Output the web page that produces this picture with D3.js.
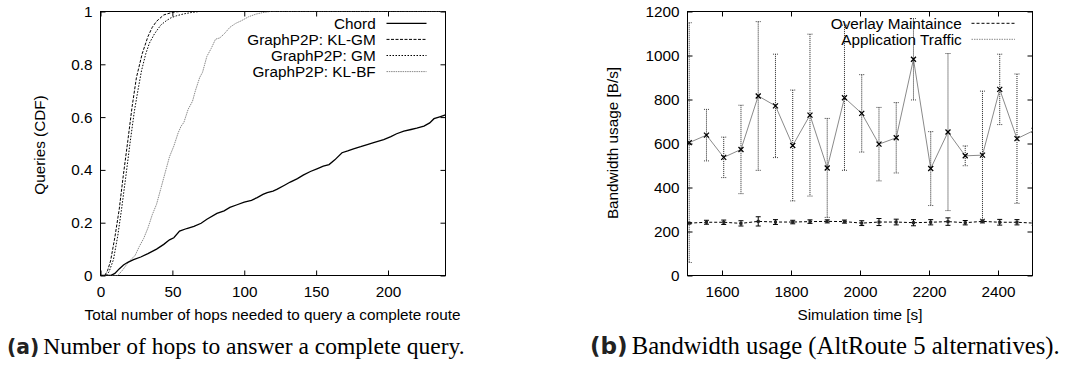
<!DOCTYPE html>
<html><head><meta charset="utf-8">
<script src="https://cdn.jsdelivr.net/npm/d3@7"></script>
<style>
body{margin:0;background:#fff}
svg{display:block}
</style>
</head><body>
<svg id="c" width="1070" height="365"></svg>
<script>
// ---------- Chart (a): CDF of hops ----------
const hopTicks = [0, 50, 100, 150, 200];
const cdfTicks = [0, 0.2, 0.4, 0.6, 0.8, 1];
const seriesNames = ["Chord", "GraphP2P: KL-GM", "GraphP2P: GM", "GraphP2P: KL-BF"];

const chordX = [0, 7, 10, 13, 16, 19, 23, 28, 33, 39, 44, 48, 51, 55, 60, 65, 70, 74, 81, 86, 90, 95, 100, 105, 109, 113, 116, 120, 123, 128, 132, 137, 141, 146, 151, 155, 159, 163, 168, 172, 176, 181, 185, 190, 197, 202, 206, 211, 216, 220, 225, 229, 232, 236, 240];
const chordY = [0, 0, 0.008, 0.025, 0.04, 0.05, 0.06, 0.07, 0.083, 0.1, 0.118, 0.135, 0.143, 0.168, 0.178, 0.186, 0.198, 0.213, 0.235, 0.245, 0.258, 0.268, 0.278, 0.285, 0.295, 0.307, 0.314, 0.32, 0.327, 0.342, 0.354, 0.367, 0.38, 0.394, 0.405, 0.414, 0.42, 0.438, 0.465, 0.472, 0.48, 0.488, 0.495, 0.503, 0.515, 0.526, 0.537, 0.547, 0.553, 0.558, 0.566, 0.578, 0.594, 0.601, 0.608];

const klgmX = [0, 3, 5, 7, 10, 13, 16, 19, 22, 25, 29, 33, 36, 39, 44, 50, 55, 240];
const klgmY = [0, 0, 0.02, 0.055, 0.145, 0.25, 0.385, 0.51, 0.64, 0.75, 0.84, 0.905, 0.94, 0.963, 0.987, 0.997, 1, 1];

const gmX = [0, 4, 6, 9, 12, 14.5, 17.5, 20.5, 23.5, 26, 28.5, 31.5, 34, 37.5, 42, 46, 49, 53, 58, 63, 69, 240];
const gmY = [0, 0, 0.015, 0.06, 0.15, 0.245, 0.37, 0.5, 0.62, 0.7, 0.775, 0.84, 0.88, 0.915, 0.949, 0.966, 0.976, 0.984, 0.991, 0.996, 1, 1];

const klbfX = [0, 12, 15, 18, 21, 24, 27, 30, 33, 36, 39, 42, 45, 48, 51, 54, 56, 58, 61, 64, 66, 69, 71, 74, 77, 80, 83, 86, 90, 94, 98, 103, 108, 113, 118, 240];
const klbfY = [0, 0, 0.018, 0.04, 0.06, 0.075, 0.11, 0.14, 0.18, 0.23, 0.27, 0.33, 0.39, 0.45, 0.49, 0.54, 0.565, 0.58, 0.63, 0.66, 0.7, 0.75, 0.77, 0.83, 0.86, 0.895, 0.9, 0.915, 0.94, 0.955, 0.965, 0.98, 0.99, 0.996, 1, 1];

// ---------- Chart (b): Bandwidth usage ----------
const timeTicks = [1600, 1800, 2000, 2200, 2400];
const bwTicks = [0, 200, 400, 600, 800, 1000, 1200];
const bwNames = ["Overlay Maintaince", "Application Traffic"];
const simTime = [1505, 1555, 1605, 1655, 1705, 1755, 1805, 1855, 1905, 1955, 2005, 2055, 2105, 2155, 2205, 2255, 2305, 2355, 2405, 2455, 2505];
const appMean = [604, 638, 537, 573, 816, 771, 591, 729, 489, 808, 737, 597, 626, 983, 486, 652, 544, 547, 846, 622, 660];
const appStd = [545, 117, 92, 201, 338, 235, 252, 368, 225, 330, 176, 167, 160, 185, 168, 357, 45, 291, 160, 294, 150];
const ovlMean = [238, 242, 242, 237, 246, 243, 243, 245, 246, 245, 238, 243, 243, 240, 242, 245, 240, 246, 242, 242, 238];
const ovlStd = [3, 9, 10, 12, 21, 11, 8, 8, 7, 7, 11, 16, 13, 14, 12, 17, 10, 7, 13, 12, 10];

const captionA = ["(a)", "Number of hops to answer a complete query."];
const captionB = ["(b)", "Bandwidth usage (AltRoute 5 alternatives)."];

const SANS = '"Liberation Sans",Arial,Helvetica,sans-serif';
const FS = 15.3;

const svg = d3.select("#c");
svg.append("rect").attr("width", 1070).attr("height", 365).attr("fill", "#fff");

function txt(sel) { return sel.style("font-family", SANS).style("font-size", FS + "px").attr("fill", "#000"); }

function drawFrame(id, x, y, xt, yt, xfmt, yfmt) {
  const [x0, x1] = x.range();
  const [y0, y1] = y.range();
  const g = svg.append("g");
  const bottom = g.append("g").attr("transform", `translate(0,${y0})`)
    .call(d3.axisBottom(x).tickValues(xt).tickSizeInner(-5).tickSizeOuter(0).tickPadding(11).tickFormat(xfmt));
  const top = g.append("g").attr("transform", `translate(0,${y1})`)
    .call(d3.axisTop(x).tickValues(xt).tickSizeInner(-5).tickSizeOuter(0).tickFormat(""));
  const left = g.append("g").attr("transform", `translate(${x0},0)`)
    .call(d3.axisLeft(y).tickValues(yt).tickSizeInner(-5).tickSizeOuter(0).tickPadding(8).tickFormat(yfmt));
  const right = g.append("g").attr("transform", `translate(${x1},0)`)
    .call(d3.axisRight(y).tickValues(yt).tickSizeInner(-5).tickSizeOuter(0).tickFormat(""));
  [bottom, top, left, right].forEach(a => {
    a.select(".domain").remove();
    a.selectAll("line").attr("stroke", "#000").attr("stroke-width", 1);
    txt(a.selectAll("text"));
  });
  g.append("rect").attr("x", x0).attr("y", y1).attr("width", x1 - x0).attr("height", y0 - y1)
    .attr("fill", "none").attr("stroke", "#000").attr("stroke-width", 1);
  svg.append("clipPath").attr("id", id).append("rect")
    .attr("x", x0).attr("y", y1).attr("width", x1 - x0).attr("height", y0 - y1);
}

// ---------- chart a ----------
const xa = d3.scaleLinear().domain([0, 240]).range([100.5, 445.5]);
const ya = d3.scaleLinear().domain([0, 1]).range([275.5, 11.5]);
drawFrame("clipA", xa, ya, hopTicks, cdfTicks, d3.format("d"), d => d === 0 || d === 1 ? String(d) : d3.format(".1f")(d));

const styleA = [
  {xs: chordX, ys: chordY, color: "#000", w: 1.3, dash: null},
  {xs: klgmX, ys: klgmY, color: "#000", w: 1, dash: "3,1.5"},
  {xs: gmX, ys: gmY, color: "#000", w: 1, dash: "1.5,1.5"},
  {xs: klbfX, ys: klbfY, color: "#8a8a8a", w: 1, dash: "1.5,0.8"}
];
const lineA = d3.line().x(d => xa(d[0])).y(d => ya(d[1]));
const gA = svg.append("g").attr("clip-path", "url(#clipA)");
styleA.slice().reverse().forEach(s => {
  gA.append("path").datum(d3.zip(s.xs, s.ys)).attr("d", lineA)
    .attr("fill", "none").attr("stroke", s.color).attr("stroke-width", s.w)
    .attr("stroke-dasharray", s.dash);
});
seriesNames.forEach((n, i) => {
  const yy = 23.3 + i * 16.1;
  txt(svg.append("text").attr("x", 375.7).attr("y", yy).attr("dy", "0.35em").attr("text-anchor", "end")).text(n);
  svg.append("line").attr("x1", 386.5).attr("x2", 426.5).attr("y1", yy).attr("y2", yy)
    .attr("stroke", styleA[i].color).attr("stroke-width", styleA[i].w).attr("stroke-dasharray", styleA[i].dash);
});
txt(svg.append("text").attr("transform", "translate(39.5,145) rotate(-90)").attr("text-anchor", "middle")
  .attr("dy", "0.35em")).text("Queries (CDF)");
txt(svg.append("text").attr("x", 272.5).attr("y", 319.5).attr("text-anchor", "middle"))
  .text("Total number of hops needed to query a complete route");

// ---------- chart b ----------
const xb = d3.scaleLinear().domain([1500, 2500]).range([687.5, 1032.5]);
const yb = d3.scaleLinear().domain([0, 1200]).range([275.5, 11.5]);
drawFrame("clipB", xb, yb, timeTicks, bwTicks, d3.format("d"), d3.format("d"));
const gB = svg.append("g").attr("clip-path", "url(#clipB)");
const idx = d3.range(simTime.length);

gB.append("path").datum(idx).attr("d", d3.line().x(i => xb(simTime[i])).y(i => yb(ovlMean[i])))
  .attr("fill", "none").attr("stroke", "#000").attr("stroke-width", 1).attr("stroke-dasharray", "3,2");
idx.forEach(i => {
  const cx = xb(simTime[i]);
  const t = yb(ovlMean[i] + ovlStd[i]), b = yb(ovlMean[i] - ovlStd[i]);
  gB.append("line").attr("x1", cx).attr("x2", cx).attr("y1", t).attr("y2", b).attr("stroke", "#000").attr("stroke-width", 1);
  [t, b].forEach(yy => gB.append("line").attr("x1", cx - 2.5).attr("x2", cx + 2.5).attr("y1", yy).attr("y2", yy)
    .attr("stroke", "#000").attr("stroke-width", 1));
  gB.append("rect").attr("x", cx - 1.5).attr("y", yb(ovlMean[i]) - 1.5).attr("width", 3).attr("height", 3).attr("fill", "#222");
});

gB.append("path").datum(idx).attr("d", d3.line().x(i => xb(simTime[i])).y(i => yb(appMean[i])))
  .attr("fill", "none").attr("stroke", "#8a8a8a").attr("stroke-width", 1);
idx.forEach(i => {
  const cx = xb(simTime[i]);
  const t = yb(appMean[i] + appStd[i]), b = yb(appMean[i] - appStd[i]);
  gB.append("line").attr("x1", cx).attr("x2", cx).attr("y1", t).attr("y2", b)
    .attr("stroke", "#222").attr("stroke-width", 1).attr("stroke-dasharray", "1,1");
  [t, b].forEach(yy => gB.append("line").attr("x1", cx - 2.5).attr("x2", cx + 2.5).attr("y1", yy).attr("y2", yy)
    .attr("stroke", "#444").attr("stroke-width", 1).attr("stroke-dasharray", "1,1"));
  const cy = yb(appMean[i]);
  gB.append("path").attr("d", `M${cx - 2.5},${cy - 2.5}L${cx + 2.5},${cy + 2.5}M${cx - 2.5},${cy + 2.5}L${cx + 2.5},${cy - 2.5}`)
    .attr("stroke", "#000").attr("stroke-width", 1.3);
});

const styleB = [{color: "#000", dash: "3,2"}, {color: "#8a8a8a", dash: "1.5,1"}];
bwNames.forEach((n, i) => {
  const yy = 23.3 + i * 16;
  txt(svg.append("text").attr("x", 961.7).attr("y", yy).attr("dy", "0.35em").attr("text-anchor", "end")).text(n);
  svg.append("line").attr("x1", 971.5).attr("x2", 1015).attr("y1", yy).attr("y2", yy)
    .attr("stroke", styleB[i].color).attr("stroke-width", 1).attr("stroke-dasharray", styleB[i].dash);
});
txt(svg.append("text").attr("transform", "translate(613,143) rotate(-90)").attr("text-anchor", "middle")
  .attr("dy", "0.35em")).text("Bandwidth usage [B/s]");
txt(svg.append("text").attr("x", 860).attr("y", 320).attr("text-anchor", "middle")).text("Simulation time [s]");

// ---------- captions ----------
function caption(parts, xLab, xText, xEnd) {
  const lab = svg.append("text").attr("x", xLab).attr("y", 354).attr("fill", "#222")
    .style("font-family", '"DejaVu Sans",sans-serif').style("font-weight", "bold").style("font-size", "19px").text(parts[0]);
  const lw = lab.node().getComputedTextLength();
  lab.style("font-size", (19 * (xText - xLab - 4) / lw) + "px");
  const t = svg.append("text").attr("x", xText).attr("y", 354).attr("fill", "#000")
    .style("font-family", '"Liberation Serif","Times New Roman",serif').style("font-size", "20px").text(parts[1]);
  const w = t.node().getComputedTextLength();
  t.style("font-size", (20 * (xEnd - xText) / w) + "px");
}
caption(captionA, 7, 43.3, 465);
caption(captionB, 590, 631.7, 1060);
</script>
</body></html>
